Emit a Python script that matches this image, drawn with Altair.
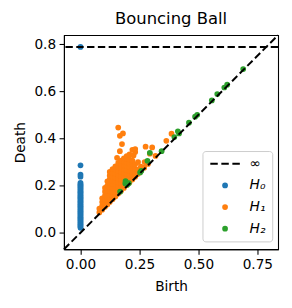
import altair as alt
import pandas as pd

# ---- data ----
h0_death = [0.788, 0.286, 0.247, 0.238, 0.212, 0.206, 0.201, 0.196, 0.191, 0.186,
            0.181, 0.175, 0.171, 0.166, 0.160, 0.156, 0.151, 0.146, 0.141, 0.135,
            0.131, 0.126, 0.121, 0.115, 0.111, 0.106, 0.101, 0.096, 0.091, 0.086,
            0.081, 0.076, 0.071, 0.066, 0.061, 0.056, 0.051, 0.046, 0.041, 0.036,
            0.031, 0.026, 0.021]
h0_birth = [0.0] * len(h0_death)

h1_birth = [0.080, 0.080,
            0.092, 0.092, 0.092, 0.092,
            0.104, 0.104, 0.104, 0.104, 0.104, 0.104,
            0.114, 0.114, 0.114, 0.114, 0.114, 0.114, 0.114,
            0.124, 0.124, 0.124, 0.124, 0.124, 0.124, 0.124, 0.124, 0.124,
            0.136, 0.136, 0.136, 0.136, 0.136, 0.136, 0.136, 0.136, 0.136,
            0.148, 0.148, 0.148, 0.148, 0.148, 0.148, 0.148, 0.148, 0.148,
            0.160, 0.160, 0.160, 0.160, 0.160, 0.160, 0.160, 0.160, 0.160,
            0.172, 0.172, 0.172, 0.172, 0.172, 0.172, 0.172, 0.172, 0.172,
            0.184, 0.184, 0.184, 0.184, 0.184, 0.184, 0.184, 0.184, 0.184,
            0.196, 0.196, 0.196, 0.196, 0.196, 0.196, 0.196, 0.196, 0.196,
            0.208, 0.208, 0.208, 0.208, 0.208, 0.208, 0.208, 0.208,
            0.220, 0.220, 0.220, 0.220, 0.220, 0.220, 0.220,
            0.232, 0.232, 0.232, 0.232, 0.232,
            0.244, 0.244, 0.244,
            0.256, 0.256,
            0.160, 0.180, 0.167, 0.176, 0.167, 0.232, 0.155, 0.225,
            0.276, 0.304, 0.294, 0.364, 0.386, 0.272, 0.318, 0.270, 0.286]
h1_death = [0.086, 0.102,
            0.098, 0.114, 0.130, 0.146,
            0.110, 0.126, 0.142, 0.158, 0.174, 0.190,
            0.120, 0.136, 0.152, 0.168, 0.184, 0.200, 0.218,
            0.130, 0.146, 0.162, 0.178, 0.194, 0.210, 0.226, 0.242, 0.258,
            0.142, 0.158, 0.174, 0.190, 0.206, 0.222, 0.238, 0.254, 0.270,
            0.154, 0.170, 0.186, 0.202, 0.218, 0.234, 0.250, 0.266, 0.282,
            0.166, 0.182, 0.198, 0.214, 0.230, 0.246, 0.262, 0.278, 0.296,
            0.178, 0.194, 0.210, 0.226, 0.242, 0.258, 0.274, 0.290, 0.306,
            0.190, 0.206, 0.222, 0.238, 0.254, 0.270, 0.286, 0.302, 0.316,
            0.202, 0.218, 0.234, 0.250, 0.266, 0.282, 0.298, 0.314, 0.325,
            0.214, 0.230, 0.246, 0.262, 0.278, 0.294, 0.310, 0.332,
            0.226, 0.242, 0.258, 0.274, 0.290, 0.306, 0.352,
            0.238, 0.254, 0.270, 0.290, 0.342,
            0.250, 0.268, 0.300,
            0.262, 0.280,
            0.446, 0.421, 0.411, 0.376, 0.346, 0.355, 0.318, 0.328,
            0.365, 0.362, 0.335, 0.390, 0.420, 0.300, 0.326, 0.276, 0.292]

h2_birth = [0.690, 0.622, 0.610, 0.580, 0.557, 0.495, 0.486, 0.460, 0.413, 0.418,
            0.398, 0.344, 0.294, 0.284, 0.258, 0.253, 0.191, 0.190, 0.205, 0.168,
            0.198]
h2_death = [0.694, 0.628, 0.616, 0.588, 0.561, 0.500, 0.492, 0.467, 0.430, 0.421,
            0.406, 0.346, 0.339, 0.305, 0.263, 0.256, 0.219, 0.209, 0.210, 0.174,
            0.204]

inf_level = 0.788
axis_range = [-0.07, 0.838]
x_ticks = [0.0, 0.25, 0.5, 0.75]
y_ticks = [0.0, 0.2, 0.4, 0.6, 0.8]

labels = ["∞", "H₀", "H₁", "H₂"]
colors = ["black", "#1f77b4", "#ff7f0e", "#2ca02c"]
dash_path = ("M-0.95,-0.065H-0.47V0.065H-0.95Z "
             "M-0.24,-0.065H0.24V0.065H-0.24Z "
             "M0.47,-0.065H0.95V0.065H0.47Z")
shapes = [dash_path, "circle", "circle", "circle"]
sizes = [1000, 34, 34, 34]

pts = pd.DataFrame({
    "birth": h0_birth + h1_birth + h2_birth,
    "death": h0_death + h1_death + h2_death,
    "label": [labels[1]] * len(h0_birth) + [labels[2]] * len(h1_birth) + [labels[3]] * len(h2_birth),
})
diag = pd.DataFrame({"birth": axis_range, "death": axis_range})
inf_df = pd.DataFrame({"death": [inf_level]})

FONT = "DejaVu Sans"
xscale = alt.Scale(domain=axis_range, nice=False, zero=False)
yscale = alt.Scale(domain=axis_range, nice=False, zero=False)

legend = alt.Legend(title=None, orient="none", legendX=141, legendY=118,
                    direction="vertical", padding=6, clipHeight=14, rowPadding=8,
                    labelOffset=8, labelFontSize=14, labelFont=FONT,
                    labelFontStyle="italic", labelColor="black",
                    fillColor="white", strokeColor="#cccccc", cornerRadius=3,
                    symbolOpacity=1)

points = alt.Chart(pts).mark_point(filled=True, opacity=1, strokeWidth=0).encode(
    x=alt.X("birth:Q", scale=xscale,
            axis=alt.Axis(values=x_ticks, format=".2f", title="Birth")),
    y=alt.Y("death:Q", scale=yscale,
            axis=alt.Axis(values=y_ticks, format=".1f", title="Death")),
    color=alt.Color("label:N", scale=alt.Scale(domain=labels, range=colors), legend=legend),
    shape=alt.Shape("label:N", scale=alt.Scale(domain=labels, range=shapes), legend=legend),
    size=alt.Size("label:N", scale=alt.Scale(type="ordinal", domain=labels, range=sizes), legend=legend),
)

diag_line = alt.Chart(diag).mark_line(color="black", strokeWidth=2, strokeDash=[7.5, 3.5]).encode(
    x=alt.X("birth:Q", scale=xscale),
    y=alt.Y("death:Q", scale=yscale),
)

inf_line = alt.Chart(inf_df).mark_rule(color="black", strokeWidth=2, strokeDash=[7.5, 3.5]).encode(
    y=alt.Y("death:Q", scale=yscale),
)

chart = alt.layer(points, diag_line, inf_line).properties(
    width=218, height=218,
    title=alt.TitleParams("Bouncing Ball", font=FONT, fontSize=16.7, fontWeight="normal",
                          color="black", anchor="middle", frame="group", offset=4),
    padding={"left": 5, "top": 0, "right": 2, "bottom": 2},
).configure_view(
    stroke="black", strokeWidth=1.1
).configure_axis(
    grid=False, labelFont=FONT, labelFontSize=13.9, labelColor="black",
    titleFont=FONT, titleFontSize=13.9, titleFontWeight="normal", titleColor="black",
    tickColor="black", tickWidth=1.1, tickSize=5, domainColor="black", domainWidth=1.1,
    labelPadding=3.5,
).configure_axisX(
    titlePadding=9
).configure_axisY(
    titlePadding=7
)

chart.save("out.html", embed_options={"renderer": "svg", "actions": False})
